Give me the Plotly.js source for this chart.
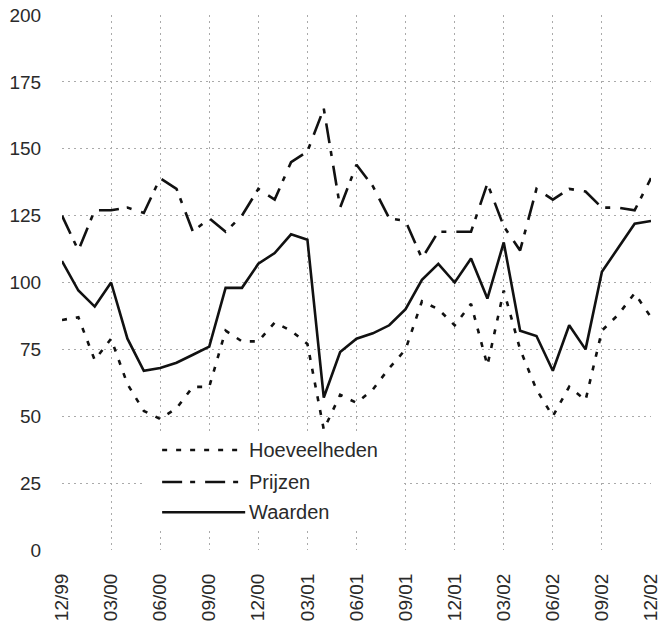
<!DOCTYPE html>
<html>
<head>
<meta charset="utf-8">
<script src="https://cdn.plot.ly/plotly-3.0.1.min.js"></script>
<style>html,body{margin:0;padding:0;background:#fff;}#chart{width:663px;height:624px;}</style>
</head>
<body>
<div id="chart"></div>
<script>
const months = ["12/99","01/00","02/00","03/00","04/00","05/00","06/00","07/00","08/00","09/00","10/00","11/00",
  "12/00","01/01","02/01","03/01","04/01","05/01","06/01","07/01","08/01","09/01","10/01","11/01",
  "12/01","01/02","02/02","03/02","04/02","05/02","06/02","07/02","08/02","09/02","10/02","11/02","12/02"];
const tickLabels = ["12/99","03/00","06/00","09/00","12/00","03/01","06/01","09/01","12/01","03/02","06/02","09/02","12/02"];
const hoeveelheden = [86,87,71,79,62,52,49,53,61,61,82,78,78,85,82,77,45,58,55,60,68,75,93,90,84,92,69,97,75,60,50,61,56,82,88,96,87];
const prijzen = [125,112,127,127,128,126,139,135,119,124,119,125,135,131,145,149,165,128,144,136,124,123,109,119,119,119,137,121,112,135,131,135,134,128,128,127,139];
const waarden = [108,97,91,100,79,67,68,70,73,76,98,98,107,111,118,116,57,74,79,81,84,90,101,107,100,109,94,115,82,80,67,84,75,104,113,122,123];
const seriesNames = ["Hoeveelheden","Prijzen","Waarden"];
const yTicks = [0,25,50,75,100,125,150,175,200];

const dotted = "5px,9px";
const dashdot = "20px,8px,5px,10px";
const lineColor = "#111";

const traces = [
  {x: months, y: hoeveelheden, name: seriesNames[0], type: "scatter", mode: "lines",
   line: {color: lineColor, width: 2.6, dash: dotted}},
  {x: months, y: prijzen, name: seriesNames[1], type: "scatter", mode: "lines",
   line: {color: lineColor, width: 2.6, dash: dashdot}},
  {x: months, y: waarden, name: seriesNames[2], type: "scatter", mode: "lines",
   line: {color: lineColor, width: 2.6}}
];

const font = {family: "Liberation Sans, Arial, sans-serif", size: 19, color: "#2a2a2a"};
const legendY = [0.187, 0.127, 0.0705];
const dashes = [dotted, dashdot, "solid"];

const shapes = [
  {type: "rect", xref: "x", yref: "y", x0: 4.9, x1: 20.7, y0: 7.5, y1: 44, layer: "between",
   fillcolor: "#fff", line: {width: 0}}
];
const annotations = [];
seriesNames.forEach((n, i) => {
  shapes.push({type: "line", xref: "paper", yref: "paper", x0: 0.170, x1: 0.311, y0: legendY[i], y1: legendY[i],
    line: {color: lineColor, width: 2.6, dash: dashes[i]}});
  annotations.push({xref: "paper", yref: "paper", x: 0.314, y: legendY[i], xanchor: "left", yanchor: "middle",
    text: n, showarrow: false, font: {family: font.family, size: 20, color: "#2a2a2a"}});
});

const gridStyle = {showgrid: true, gridcolor: "#aaa", griddash: "2px,4px", gridwidth: 1};

const layout = {
  width: 663, height: 624,
  margin: {l: 62, r: 12, t: 15, b: 74},
  paper_bgcolor: "#fff", plot_bgcolor: "#fff",
  font: font,
  showlegend: false,
  xaxis: Object.assign({type: "category", range: [0, 36], tickvals: tickLabels, ticktext: tickLabels, tickangle: -90,
    zeroline: false, showline: false,
    ticks: "outside", ticklen: 15, tickcolor: "rgba(0,0,0,0)", tickfont: {size: 19, color: "#2a2a2a"}}, gridStyle),
  yaxis: Object.assign({range: [0, 200], tickvals: yTicks,
    zeroline: false, showline: false, ticks: "outside", ticklen: 16, tickcolor: "rgba(0,0,0,0)",
    tickfont: {size: 19, color: "#2a2a2a"}}, gridStyle),
  shapes: shapes,
  annotations: annotations
};

Plotly.newPlot("chart", traces, layout, {displayModeBar: false, staticPlot: true});
</script>
</body>
</html>
